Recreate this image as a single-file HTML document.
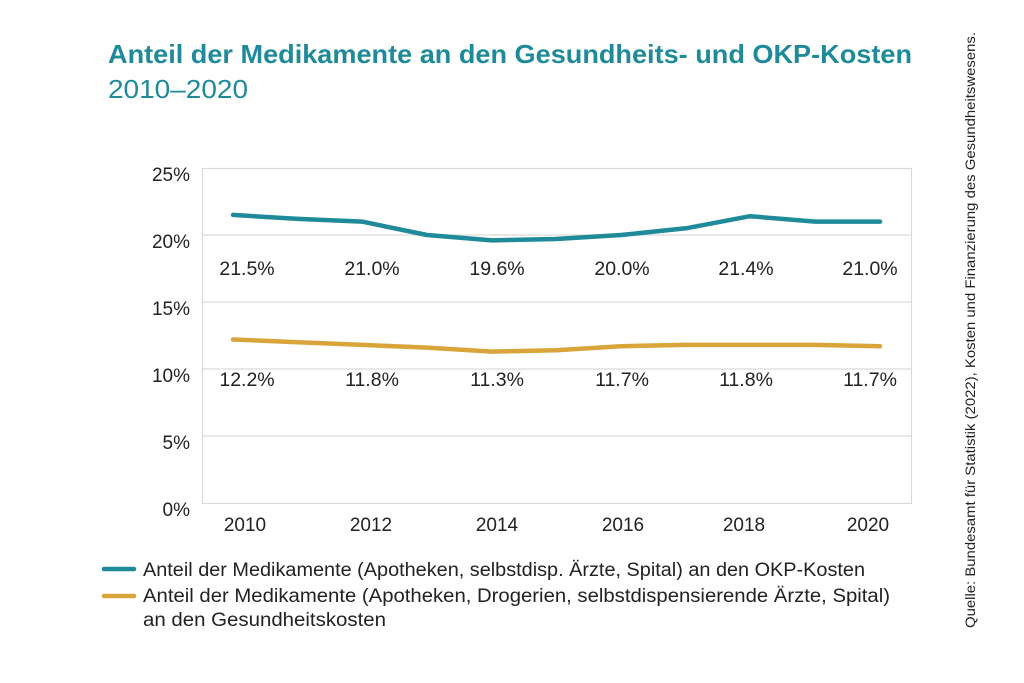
<!DOCTYPE html>
<html><head><meta charset="utf-8"><style>
html,body{margin:0;padding:0;background:#fff;}
svg{display:block;font-family:"Liberation Sans",Arial,sans-serif;}
</style></head><body>
<svg width="1024" height="683" viewBox="0 0 1024 683" xmlns="http://www.w3.org/2000/svg">
<text x="108" y="63" font-size="26" font-weight="bold" fill="#1f8a99" textLength="804" lengthAdjust="spacingAndGlyphs">Anteil der Medikamente an den Gesundheits- und OKP-Kosten</text>
<text x="108" y="98" font-size="26" fill="#1f8a99" textLength="140" lengthAdjust="spacingAndGlyphs">2010–2020</text>
<g stroke="#d9d9d9" stroke-width="1.2" fill="none">
<rect x="202.5" y="168.5" width="709" height="335"/>
<line x1="202" y1="235" x2="912" y2="235"/>
<line x1="202" y1="302" x2="912" y2="302"/>
<line x1="202" y1="369" x2="912" y2="369"/>
<line x1="202" y1="436" x2="912" y2="436"/>
</g>
<g font-size="19" fill="#222" text-anchor="end">
<text x="190" y="181">25%</text>
<text x="190" y="248">20%</text>
<text x="190" y="315">15%</text>
<text x="190" y="382">10%</text>
<text x="190" y="449">5%</text>
<text x="190" y="516">0%</text>
</g>
<g font-size="19" fill="#222" text-anchor="middle">
<text x="245" y="531">2010</text>
<text x="371" y="531">2012</text>
<text x="497" y="531">2014</text>
<text x="623" y="531">2016</text>
<text x="744" y="531">2018</text>
<text x="868" y="531">2020</text>
</g>
<polyline fill="none" stroke="#1f8a99" stroke-width="4.5" stroke-linejoin="round" stroke-linecap="round"
points="233,214.9 298,218.9 362,221.6 427,235 492,240.4 556,239 621,235 686,228.3 750,216.2 815,221.6 880,221.6"/>
<polyline fill="none" stroke="#d9a43a" stroke-width="4.5" stroke-linejoin="round" stroke-linecap="round"
points="233,339.5 298,342.2 362,344.9 427,347.6 492,351.6 556,350.2 621,346.2 686,344.9 750,344.9 815,344.9 880,346.2"/>
<g font-size="19.5" fill="#222" text-anchor="middle">
<text x="247" y="275">21.5%</text>
<text x="372" y="275">21.0%</text>
<text x="497" y="275">19.6%</text>
<text x="622" y="275">20.0%</text>
<text x="746" y="275">21.4%</text>
<text x="870" y="275">21.0%</text>
<text x="247" y="386">12.2%</text>
<text x="372" y="386">11.8%</text>
<text x="497" y="386">11.3%</text>
<text x="622" y="386">11.7%</text>
<text x="746" y="386">11.8%</text>
<text x="870" y="386">11.7%</text>
</g>
<line x1="104" y1="569" x2="134" y2="569" stroke="#1f8a99" stroke-width="4.5" stroke-linecap="round"/>
<line x1="104" y1="596" x2="134" y2="596" stroke="#d9a43a" stroke-width="4.5" stroke-linecap="round"/>
<g font-size="19" fill="#222">
<text x="143" y="576" textLength="722" lengthAdjust="spacingAndGlyphs">Anteil der Medikamente (Apotheken, selbstdisp. Ärzte, Spital) an den OKP-Kosten</text>
<text x="143" y="602" textLength="747" lengthAdjust="spacingAndGlyphs">Anteil der Medikamente (Apotheken, Drogerien, selbstdispensierende Ärzte, Spital)</text>
<text x="143" y="626" textLength="243" lengthAdjust="spacingAndGlyphs">an den Gesundheitskosten</text>
</g>
<text transform="translate(975,628) rotate(-90)" font-size="14" fill="#222" textLength="596" lengthAdjust="spacingAndGlyphs">Quelle: Bundesamt für Statistik (2022), Kosten und Finanzierung des Gesundheitswesens.</text>
</svg>
</body></html>
